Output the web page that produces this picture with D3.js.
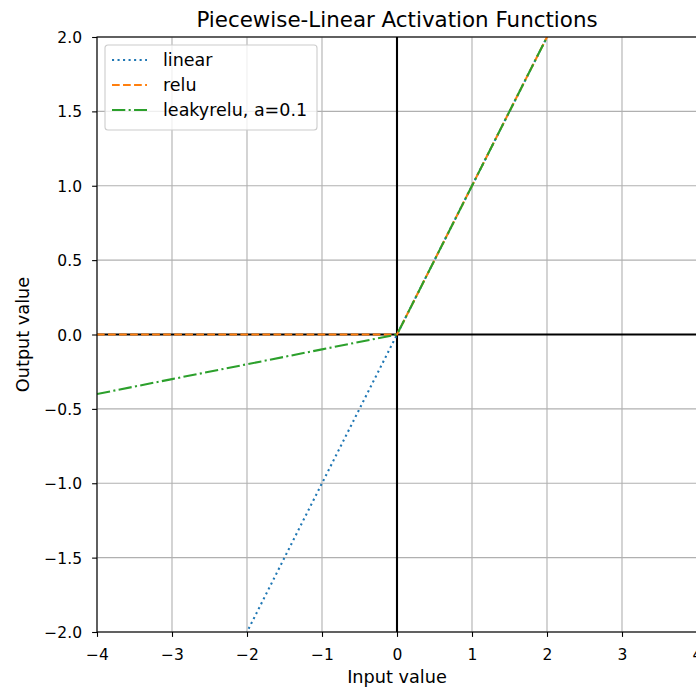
<!DOCTYPE html>
<html>
<head>
<meta charset="utf-8">
<script src="https://cdn.jsdelivr.net/npm/d3@7"></script>
<style>
  body { margin: 0; background: #fff; }
  svg { display: block; font-family: "DejaVu Sans", sans-serif; }
</style>
</head>
<body>
<div id="chart"></div>
<script>
// values
const inputs = [-4, -3, -2, -1, 0, 1, 2, 3, 4];
const linearOut = [-4, -3, -2, -1, 0, 1, 2, 3, 4];
const reluOut = [0, 0, 0, 0, 0, 1, 2, 3, 4];
const leakyOut = [-0.4, -0.3, -0.2, -0.1, 0, 1, 2, 3, 4];
const seriesNames = ['linear', 'relu', 'leakyrelu, a=0.1'];
const xTicks = [-4, -3, -2, -1, 0, 1, 2, 3, 4];
const yTicks = [-2, -1.5, -1, -0.5, 0, 0.5, 1, 1.5, 2];

const width = 696;
const height = 690;
const lw = 2.08;

const svg = d3.select('#chart')
  .append('svg')
  .attr('width', width)
  .attr('height', height);

const area = { left: 97, right: 697, top: 37, bottom: 632 };

const xScale = d3.scaleLinear().domain([-4, 4]).range([area.left, area.right]);
const yScale = d3.scaleLinear().domain([-2, 2]).range([area.bottom, area.top]);

const fmt = (d) => (d < 0 ? '\u2212' : '') + Math.abs(d);
const fmtY = (d) => (d < 0 ? '\u2212' : '') + Math.abs(d).toFixed(1);

svg.append('clipPath').attr('id', 'clip')
  .append('rect')
  .attr('x', area.left).attr('y', area.top)
  .attr('width', area.right - area.left).attr('height', area.bottom - area.top);

// gridlines
const grid = svg.append('g').attr('class', 'grid');
grid.selectAll('line.gx')
  .data(xTicks)
  .join('line')
  .attr('class', 'gx')
  .attr('x1', (d) => xScale(d)).attr('x2', (d) => xScale(d))
  .attr('y1', area.top).attr('y2', area.bottom)
  .attr('stroke', '#b0b0b0').attr('stroke-width', 1.1);
grid.selectAll('line.gy')
  .data(yTicks)
  .join('line')
  .attr('class', 'gy')
  .attr('y1', (d) => yScale(d)).attr('y2', (d) => yScale(d))
  .attr('x1', area.left).attr('x2', area.right)
  .attr('stroke', '#b0b0b0').attr('stroke-width', 1.1);

// zero lines
svg.append('line')
  .attr('x1', area.left).attr('x2', area.right)
  .attr('y1', yScale(0)).attr('y2', yScale(0))
  .attr('stroke', '#000').attr('stroke-width', lw);
svg.append('line')
  .attr('x1', xScale(0)).attr('x2', xScale(0))
  .attr('y1', area.top).attr('y2', area.bottom)
  .attr('stroke', '#000').attr('stroke-width', lw);

const series = [
  { name: seriesNames[0], values: linearOut, color: '#1f77b4', dash: '2.08,3.44' },
  { name: seriesNames[1], values: reluOut, color: '#ff7f0e', dash: '7.7,3.33' },
  { name: seriesNames[2], values: leakyOut, color: '#2ca02c', dash: '13.3,3.33,2.08,3.33' },
];

const line = d3.line()
  .x((d) => xScale(d[0]))
  .y((d) => yScale(d[1]));

svg.append('g')
  .attr('clip-path', 'url(#clip)')
  .selectAll('path')
  .data(series)
  .join('path')
  .attr('d', (s) => line(inputs.map((x, i) => [x, s.values[i]])))
  .attr('fill', 'none')
  .attr('stroke', (s) => s.color)
  .attr('stroke-width', lw)
  .attr('stroke-dasharray', (s) => s.dash);

// axes
const xAxis = svg.append('g')
  .attr('transform', `translate(0, ${area.bottom})`)
  .call(d3.axisBottom(xScale).tickValues(xTicks).tickFormat(fmt).tickSize(4.9));
const yAxis = svg.append('g')
  .attr('transform', `translate(${area.left}, 0)`)
  .call(d3.axisLeft(yScale).tickValues(yTicks).tickFormat(fmtY).tickSize(4.9));

[xAxis, yAxis].forEach((g) => {
  g.attr('font-size', 15.5).attr('font-family', 'DejaVu Sans');
  g.select('.domain').remove();
  g.selectAll('.tick line').attr('stroke', '#000').attr('stroke-width', 1.1);
  g.selectAll('.tick text').attr('fill', '#000');
});
xAxis.selectAll('.tick text').attr('dy', null).attr('y', 28);
yAxis.selectAll('.tick text').attr('x', -15).attr('dy', '0.36em');

// frame
svg.append('rect')
  .attr('x', area.left).attr('y', area.top)
  .attr('width', area.right - area.left).attr('height', area.bottom - area.top)
  .attr('fill', 'none').attr('stroke', '#000').attr('stroke-width', 1.1);

// labels
svg.append('text')
  .attr('x', (area.left + area.right) / 2).attr('y', 27)
  .attr('text-anchor', 'middle')
  .style('font-size', '21.4px')
  .text('Piecewise-Linear Activation Functions');
svg.append('text')
  .attr('x', (area.left + area.right) / 2).attr('y', 683)
  .attr('text-anchor', 'middle')
  .style('font-size', '17.7px')
  .text('Input value');
svg.append('text')
  .attr('transform', `translate(29, ${(area.top + area.bottom) / 2}) rotate(-90)`)
  .attr('text-anchor', 'middle')
  .style('font-size', '17.7px')
  .text('Output value');

// legend
const legend = svg.append('g').attr('transform', 'translate(105, 45)');
legend.append('rect')
  .attr('width', 212).attr('height', 85)
  .attr('rx', 3)
  .attr('fill', 'rgba(255,255,255,0.8)')
  .attr('stroke', '#cccccc').attr('stroke-width', 1.1);
const item = legend.selectAll('g.item')
  .data(series)
  .join('g')
  .attr('class', 'item')
  .attr('transform', (d, i) => `translate(0, ${15 + i * 25})`);
item.append('line')
  .attr('x1', 7).attr('x2', 42)
  .attr('stroke', (d) => d.color)
  .attr('stroke-width', lw)
  .attr('stroke-dasharray', (d) => d.dash);
item.append('text')
  .attr('x', 58).attr('y', 6)
  .style('font-size', '17.5px')
  .attr('fill', '#000')
  .text((d) => d.name);
</script>
</body>
</html>
